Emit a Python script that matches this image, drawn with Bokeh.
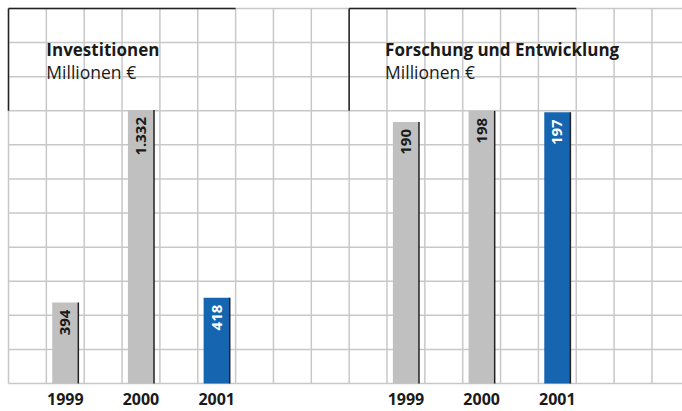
import math
from bokeh.plotting import figure
from bokeh.models import Range1d
from bokeh.core.properties import value
from bokeh.embed import file_html
from bokeh.resources import INLINE

# ---- data ----
years = ["1999", "2000", "2001"]
invest = [394, 1332, 418]
invest_labels = ["394", "1.332", "418"]
fue = [190, 198, 197]
fue_labels = ["190", "198", "197"]
bar_colors = ["#c0c0c0", "#c0c0c0", "#1565b0"]
label_colors = ["#1a1a1a", "#1a1a1a", "#ffffff"]
titles = ["Investitionen", "Forschung und Entwicklung"]
subtitle = "Millionen €"

# ---- layout (grid units) ----
W, H = 682, 411
off_x = 8          # left offset of paper grid
cell_w, cell_h = 37.85, 34.09
base_px = 28       # baseline distance from canvas bottom
left_pos = [1.5, 3.5, 5.5]
right_pos = [10.5, 12.5, 14.5]
bar_w = 0.69
FONT = "Open Sans"

inv_per_px = 4.87
fue_per_px = 0.7265

p = figure(width=W, height=H, output_backend="svg", toolbar_location=None,
           x_range=Range1d(-off_x / cell_w, (W - off_x) / cell_w),
           y_range=Range1d(-base_px * inv_per_px, (H - base_px) * inv_per_px),
           min_border=0, outline_line_color=None)
p.extra_y_ranges = {
    "fue": Range1d(-base_px * fue_per_px, (H - base_px) * fue_per_px),
    "grid": Range1d(-base_px / cell_h, (H - base_px) / cell_h),
}
p.axis.visible = False
p.xgrid.visible = False
p.ygrid.visible = False

# paper grid
n_cols = 17
n_rows = 11
x_end = (W - off_x) / cell_w
p.segment(x0=list(range(n_cols + 1)), y0=[0] * (n_cols + 1),
          x1=list(range(n_cols + 1)), y1=[n_rows] * (n_cols + 1),
          line_color="#c8c8c8", line_width=1.5, y_range_name="grid")
p.segment(x0=[0] * (n_rows + 1), y0=list(range(n_rows + 1)),
          x1=[x_end] * (n_rows + 1), y1=list(range(n_rows + 1)),
          line_color="#c8c8c8", line_width=1.5, y_range_name="grid")

# title boxes (top and left edges)
for x0 in [0, 9]:
    p.segment(x0=[x0, x0], y0=[n_rows, n_rows - 3], x1=[x0 + 6, x0], y1=[n_rows, n_rows],
              line_color="#222222", line_width=1.5, y_range_name="grid")

# bars
p.vbar(x=left_pos, top=invest, width=bar_w, bottom=0, fill_color=bar_colors, line_color=None)
p.segment(x0=[x + bar_w / 2 for x in left_pos], y0=[0] * 3,
          x1=[x + bar_w / 2 for x in left_pos], y1=invest,
          line_color="#222222", line_width=1.5)
p.vbar(x=right_pos, top=fue, width=bar_w, bottom=0, fill_color=bar_colors, line_color=None,
       y_range_name="fue")
p.segment(x0=[x + bar_w / 2 for x in right_pos], y0=[0] * 3,
          x1=[x + bar_w / 2 for x in right_pos], y1=fue,
          line_color="#222222", line_width=1.5, y_range_name="fue")

# value labels (rotated)
p.text(x=left_pos, y=invest, text=invest_labels, angle=math.pi / 2,
       text_align="right", text_baseline="middle", y_offset=7,
       text_color=label_colors, text_font=value(FONT), text_font_style="bold",
       text_font_size="15px")
p.text(x=right_pos, y=fue, text=fue_labels, angle=math.pi / 2,
       text_align="right", text_baseline="middle", y_offset=7,
       text_color=label_colors, text_font=value(FONT), text_font_style="bold",
       text_font_size="15px", y_range_name="fue")

# year labels
yl = -0.46
p.text(x=left_pos + right_pos, y=[yl] * 6, text=years + years,
       text_align="center", text_baseline="alphabetic",
       text_color="#1a1a1a", text_font=value(FONT), text_font_style="bold",
       text_font_size="16px", y_range_name="grid")

# titles
tx = [1, 9.95]
p.text(x=tx, y=[9.80, 9.80], text=titles, text_align="left",
       text_baseline="alphabetic", text_color="#1a1a1a", text_font=value(FONT),
       text_font_style="bold", text_font_size="17px", y_range_name="grid")
p.text(x=tx, y=[9.15, 9.15], text=[subtitle, subtitle], text_align="left",
       text_baseline="alphabetic", text_color="#1a1a1a", text_font=value(FONT),
       text_font_size="17.5px", y_range_name="grid")

open("out.html", "w").write(file_html(p, INLINE))
